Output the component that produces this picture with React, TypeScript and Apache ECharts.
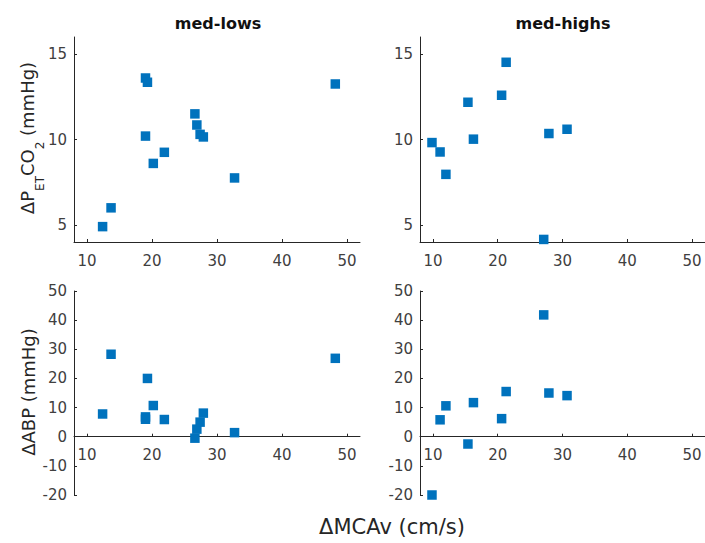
import React, { useEffect, useRef } from 'react';
import * as echarts from 'echarts';

// ---- data ----
const xTicks = [10, 20, 30, 40, 50];
const petTicks = [5, 10, 15];
const abpTicks = [-20, -10, 0, 10, 20, 30, 40, 50];

const lowsMcav = [12.4, 13.7, 19.0, 19.3, 19.0, 20.2, 21.9, 26.6, 26.9, 27.4, 27.9, 32.7, 48.2];
const lowsPetco2 = [4.9, 6.0, 13.6, 13.35, 10.2, 8.6, 9.25, 11.5, 10.85, 10.3, 10.15, 7.75, 13.25];
const lowsAbp = [7.8, 28.3, 6.0, 20.0, 6.8, 10.7, 5.9, -0.5, 2.6, 5.0, 8.1, 1.4, 26.9];

const highsMcav = [9.85, 11.1, 12.0, 15.4, 16.25, 20.6, 21.3, 27.1, 27.9, 30.7];
const highsPetco2 = [9.82, 9.27, 7.96, 12.18, 10.02, 12.59, 14.52, 4.15, 10.35, 10.6];
const highsAbp = [-20.0, 5.8, 10.6, -2.5, 11.7, 6.2, 15.5, 41.8, 15.0, 14.1];

const panelTitles = ['med-lows', 'med-highs'];
const xName = 'ΔMCAv (cm/s)';

const FONT = 'DejaVu Sans';
const AXIS_COLOR = '#262626';
const LABEL_COLOR = '#404040';
const MARK_COLOR = '#0072BD';

function zip(xs: number[], ys: number[]) {
  return xs.map((x, i) => [x, ys[i]]);
}

export default function App() {
  const ref = useRef<HTMLDivElement>(null);

  useEffect(() => {
    const chart = echarts.init(ref.current!, null, { renderer: 'svg' });

    const grids = [
      { left: 74, top: 37, width: 286, height: 205 },
      { left: 420, top: 37, width: 286, height: 205 },
      { left: 74, top: 291, width: 286, height: 204 },
      { left: 420, top: 291, width: 286, height: 204 },
    ];

    const yMin = [4, 4, -20, -20];
    const yMax = [16, 16, 50, 50];

    const tickStyle = { lineStyle: { color: AXIS_COLOR, width: 1 } };
    const labelStyle = { color: LABEL_COLOR, fontSize: 15, fontFamily: FONT };

    const xAxes = grids.map((g, i) => {
      // bottom panels: x axis drawn at y = 0 (MATLAB origin style)
      const crossesZero = yMin[i] < 0 && yMax[i] > 0;
      const zeroOffset = crossesZero ? -(g.height * (0 - yMin[i])) / (yMax[i] - yMin[i]) : 0;
      return {
        type: 'value',
        gridIndex: i,
        min: 8,
        max: 52,
        position: 'bottom',
        offset: zeroOffset,
        axisLine: { show: true, onZero: false, lineStyle: { color: AXIS_COLOR, width: 1 } },
        axisTick: { show: true, inside: true, length: 3, customValues: xTicks, ...tickStyle },
        axisLabel: { ...labelStyle, margin: 11, customValues: xTicks },
        splitLine: { show: false },
      };
    });

    const yAxes = grids.map((_, i) => {
      const ticks = i < 2 ? petTicks : abpTicks;
      return {
        type: 'value',
        gridIndex: i,
        min: yMin[i],
        max: yMax[i],
        position: 'left',
        axisLine: { show: true, onZero: false, lineStyle: { color: AXIS_COLOR, width: 1 } },
        axisTick: { show: true, inside: true, length: 3, customValues: ticks, ...tickStyle },
        axisLabel: { ...labelStyle, margin: 7, customValues: ticks },
        splitLine: { show: false },
      };
    });

    const seriesData = [
      zip(lowsMcav, lowsPetco2),
      zip(highsMcav, highsPetco2),
      zip(lowsMcav, lowsAbp),
      zip(highsMcav, highsAbp),
    ];

    const series = seriesData.map((d, i) => ({
      type: 'scatter',
      xAxisIndex: i,
      yAxisIndex: i,
      data: d,
      symbol: 'rect',
      symbolSize: 9.5,
      clip: false,
      itemStyle: { color: MARK_COLOR, opacity: 1 },
    }));

    const subRich = {
      n: { fontSize: 18, fontFamily: FONT, fill: AXIS_COLOR, lineHeight: 20, verticalAlign: 'top' },
      s: { fontSize: 12, fontFamily: FONT, fill: AXIS_COLOR, lineHeight: 12, verticalAlign: 'top', padding: [16, 0, 0, 0] },
    };

    const graphic = [
      {
        type: 'text',
        x: 218,
        y: 23,
        style: { text: panelTitles[0], fontSize: 16, fontWeight: 'bold', fontFamily: FONT, fill: '#111', align: 'center', verticalAlign: 'middle' },
      },
      {
        type: 'text',
        x: 563,
        y: 23,
        style: { text: panelTitles[1], fontSize: 16, fontWeight: 'bold', fontFamily: FONT, fill: '#111', align: 'center', verticalAlign: 'middle' },
      },
      {
        type: 'text',
        x: 28,
        y: 138,
        rotation: Math.PI / 2,
        style: {
          text: '{n|ΔP}{s|ET}{n|CO}{s|2}{n| (mmHg)}',
          rich: subRich,
          align: 'center',
          verticalAlign: 'middle',
        },
      },
      {
        type: 'text',
        x: 28,
        y: 392,
        rotation: Math.PI / 2,
        style: { text: 'ΔABP (mmHg)', fontSize: 18, fontFamily: FONT, fill: AXIS_COLOR, align: 'center', verticalAlign: 'middle' },
      },
      {
        type: 'text',
        x: 392,
        y: 527,
        style: { text: xName, fontSize: 21, fontFamily: FONT, fill: AXIS_COLOR, align: 'center', verticalAlign: 'middle' },
      },
    ];

    chart.setOption({
      animation: false,
      backgroundColor: '#ffffff',
      grid: grids,
      xAxis: xAxes,
      yAxis: yAxes,
      series,
      graphic,
    });

    return () => chart.dispose();
  }, []);

  return (
    <div
      ref={ref}
      style={{ position: 'absolute', left: 0, top: 0, width: 705, height: 543 }}
    />
  );
}
